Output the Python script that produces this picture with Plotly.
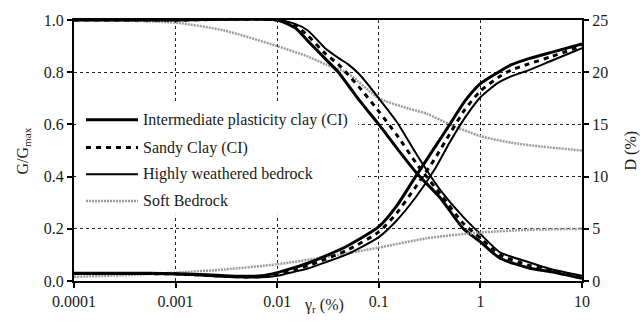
import plotly.graph_objects as go

# ---------------- data ----------------
gamma_G = [0.0001, 0.001, 0.01, 0.015, 0.02, 0.03, 0.04, 0.05, 0.065, 0.1, 0.15, 0.24, 0.4, 0.68, 1, 1.56, 3, 5, 10]
G_CI = [1.0, 1.0, 1.0, 0.97, 0.92, 0.85, 0.80, 0.75, 0.69, 0.60, 0.51, 0.41, 0.32, 0.20, 0.15, 0.087, 0.05, 0.035, 0.01]
G_SC = [1.0, 1.0, 1.0, 0.98, 0.94, 0.87, 0.83, 0.79, 0.74, 0.65, 0.56, 0.445, 0.335, 0.22, 0.165, 0.10, 0.06, 0.04, 0.015]
G_HW = [1.0, 1.0, 1.0, 0.985, 0.96, 0.89, 0.855, 0.83, 0.79, 0.70, 0.61, 0.48, 0.35, 0.245, 0.18, 0.11, 0.072, 0.045, 0.02]

gamma_D = [0.0001, 0.0003, 0.001, 0.002, 0.004, 0.007, 0.01, 0.015, 0.02, 0.03, 0.05, 0.1, 0.15, 0.23, 0.35, 0.5, 0.7, 1, 1.5, 2, 3, 5, 10]
D_CI = [0.75, 0.75, 0.7, 0.6, 0.45, 0.5, 0.8, 1.3, 1.7, 2.4, 3.4, 5.2, 7.2, 10.0, 12.7, 15.0, 17.2, 18.9, 20.0, 20.7, 21.3, 21.9, 22.7]
D_SC = [0.72, 0.72, 0.68, 0.55, 0.4, 0.42, 0.65, 1.1, 1.45, 2.1, 3.0, 4.7, 6.5, 9.0, 11.6, 14.1, 16.4, 18.2, 19.5, 20.2, 20.8, 21.5, 22.5]
D_HW = [0.7, 0.7, 0.65, 0.5, 0.35, 0.35, 0.5, 0.9, 1.2, 1.8, 2.6, 4.2, 5.8, 8.0, 10.6, 13.3, 15.6, 17.6, 19.0, 19.6, 20.2, 21.1, 22.3]

gamma_soft_G = [0.0001, 0.0003, 0.001, 0.003, 0.01, 0.02, 0.03, 0.05, 0.1, 0.2, 0.3, 0.5, 1, 2, 4, 10]
G_soft = [1.0, 0.998, 0.99, 0.96, 0.90, 0.86, 0.83, 0.795, 0.70, 0.66, 0.64, 0.60, 0.555, 0.53, 0.515, 0.50]
gamma_soft_D = [0.0001, 0.0003, 0.001, 0.003, 0.01, 0.03, 0.1, 0.3, 1, 3, 10]
D_soft = [0.4, 0.55, 0.8, 1.1, 1.6, 2.3, 3.2, 4.1, 4.65, 4.9, 5.0]

series_names = ["Intermediate plasticity clay (CI)", "Sandy Clay (CI)", "Highly weathered bedrock", "Soft Bedrock"]
x_tickvals = [0.0001, 0.001, 0.01, 0.1, 1, 10]
x_ticktext = ["0.0001", "0.001", "0.01", "0.1", "1", "10"]
y_tickvals = [0.0, 0.2, 0.4, 0.6, 0.8, 1.0]
y_ticktext = ["0.0", "0.2", "0.4", "0.6", "0.8", "1.0"]
y2_tickvals = [0, 5, 10, 15, 20, 25]

# ---------------- styles ----------------
FONT = "Liberation Serif, Times New Roman, serif"
TXT = "#1a1a1a"
styles = [
    dict(color="black", width=3),
    dict(color="black", width=3, dash="5px,5px"),
    dict(color="black", width=2),
    dict(color="#9c9c9c", width=2.5, dash="2px,1px"),
]

fig = go.Figure()
G_sets = [(gamma_G, G_CI), (gamma_G, G_SC), (gamma_G, G_HW), (gamma_soft_G, G_soft)]
D_sets = [(gamma_D, D_CI), (gamma_D, D_SC), (gamma_D, D_HW), (gamma_soft_D, D_soft)]

order = [3, 2, 1, 0]
for i in order:
    gx, gy = G_sets[i]
    fig.add_trace(go.Scatter(x=gx, y=gy, mode="lines", name=series_names[i],
                             line=dict(shape="spline", smoothing=0.6, **styles[i]),
                             showlegend=False, yaxis="y"))
    dx, dy = D_sets[i]
    fig.add_trace(go.Scatter(x=dx, y=dy, mode="lines", name=series_names[i],
                             line=dict(shape="spline", smoothing=0.6, **styles[i]),
                             showlegend=False, yaxis="y2"))

# ---------------- plot geometry ----------------
W, H = 642, 322
L, R, T, B = 74, 60, 17, 41
pw, ph = W - L - R, H - T - B

def px(xp):
    return (xp - L) / pw

def py(yp):
    return (H - B - yp) / ph

shapes = []
annotations = []
# white legend background
shapes.append(dict(type="rect", xref="paper", yref="paper",
                   x0=px(76), x1=px(358), y0=py(214), y1=py(102),
                   fillcolor="white", line=dict(width=0), layer="above"))
legend_y = [118, 146, 173, 200]
for i, yy in enumerate(legend_y):
    st = styles[i]
    shapes.append(dict(type="line", xref="paper", yref="paper",
                       x0=px(86), x1=px(138), y0=py(yy), y1=py(yy),
                       line=dict(color=st["color"], width=st["width"], dash=st.get("dash", "solid")),
                       layer="above"))
    annotations.append(dict(xref="paper", yref="paper", x=px(141), y=py(yy),
                            xanchor="left", yanchor="middle", showarrow=False,
                            text=series_names[i], font=dict(family=FONT, size=16, color=TXT)))

# axis titles
annotations.append(dict(xref="paper", yref="paper", x=px(324), y=py(306),
                        xanchor="center", yanchor="middle", showarrow=False,
                        text="γ<sub>r</sub> (%)", font=dict(family=FONT, size=16, color=TXT)))
annotations.append(dict(xref="paper", yref="paper", x=px(23), y=py(150),
                        xanchor="center", yanchor="middle", showarrow=False, textangle=-90,
                        text="G/G<sub>max</sub>", font=dict(family=FONT, size=16, color=TXT)))
annotations.append(dict(xref="paper", yref="paper", x=px(630), y=py(149),
                        xanchor="center", yanchor="middle", showarrow=False, textangle=-90,
                        text="D (%)", font=dict(family=FONT, size=16, color=TXT)))

fig.update_layout(
    width=W, height=H,
    margin=dict(l=L, r=R, t=T, b=B, pad=0),
    paper_bgcolor="white", plot_bgcolor="white",
    font=dict(family=FONT, size=16, color=TXT),
    showlegend=False,
    shapes=shapes, annotations=annotations,
    xaxis=dict(type="log", range=[-4, 1], tickvals=x_tickvals, ticktext=x_ticktext,
               showgrid=True, gridcolor="#222", griddash="3px,3px", gridwidth=1,
               showline=True, linecolor="black", linewidth=2, mirror=True,
               ticks="outside", ticklen=5, tickcolor="black", tickwidth=1.5,
               zeroline=False, tickfont=dict(family=FONT, size=16, color=TXT)),
    yaxis=dict(range=[0, 1], tickvals=y_tickvals, ticktext=y_ticktext,
               showgrid=True, gridcolor="#222", griddash="3px,3px", gridwidth=1,
               showline=True, linecolor="black", linewidth=2, mirror=True,
               ticks="outside", ticklen=5, tickcolor="black", tickwidth=1.5,
               zeroline=False, tickfont=dict(family=FONT, size=16, color=TXT)),
    yaxis2=dict(range=[0, 25], tickvals=y2_tickvals, overlaying="y", side="right",
                showgrid=False, showline=True, linecolor="black", linewidth=2,
                ticks="outside", ticklen=5, tickcolor="black", tickwidth=1.5,
                zeroline=False, tickfont=dict(family=FONT, size=16, color=TXT)),
)

fig.write_html("out.html")
